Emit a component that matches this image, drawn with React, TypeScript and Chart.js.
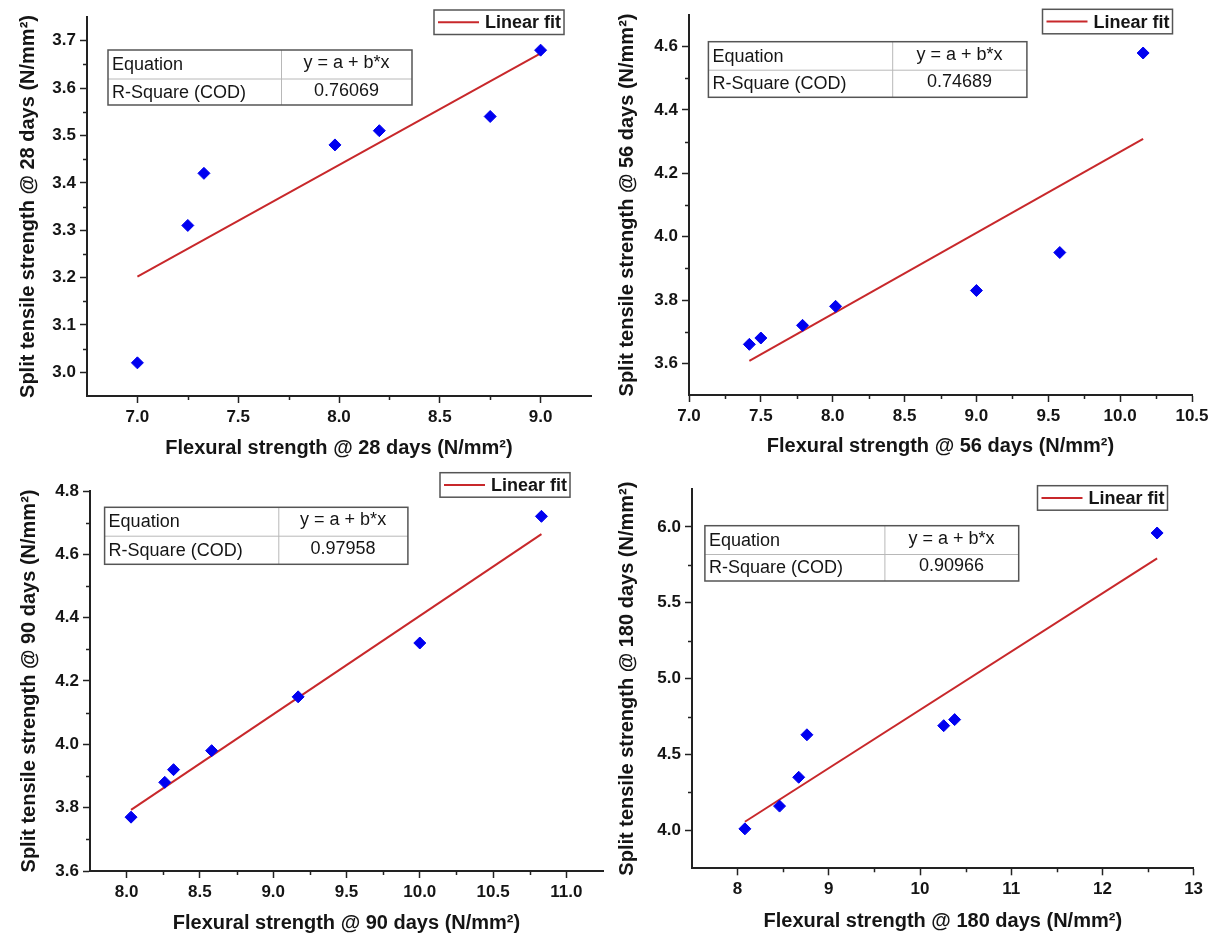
import React, { useEffect, useRef } from "react";
import { Chart, registerables } from "chart.js";
Chart.register(...registerables);

const FONT = "'Liberation Sans', Arial, sans-serif";

// ---- Data: 28 days ----
const flex28 = [7.0, 7.25, 7.33, 7.98, 8.2, 8.75, 9.0];
const split28 = [3.02, 3.31, 3.42, 3.48, 3.51, 3.54, 3.68];
const fit28X = [7.0, 9.0];
const fit28Y = [3.202, 3.673];
const r2_28 = "0.76069";
const xTicks28 = [7.0, 7.5, 8.0, 8.5, 9.0];
const xMinor28 = [7.25, 7.75, 8.25, 8.75];
const yTicks28 = [3.0, 3.1, 3.2, 3.3, 3.4, 3.5, 3.6, 3.7];
const yMinor28 = [3.05, 3.15, 3.25, 3.35, 3.45, 3.55, 3.65];

// ---- Data: 56 days ----
const flex56 = [7.42, 7.5, 7.79, 8.02, 9.0, 9.58, 10.16];
const split56 = [3.66, 3.68, 3.72, 3.78, 3.83, 3.95, 4.58];
const fit56X = [7.42, 10.16];
const fit56Y = [3.608, 4.309];
const r2_56 = "0.74689";
const xTicks56 = [7.0, 7.5, 8.0, 8.5, 9.0, 9.5, 10.0, 10.5];
const xMinor56 = [7.25, 7.75, 8.25, 8.75, 9.25, 9.75, 10.25];
const yTicks56 = [3.6, 3.8, 4.0, 4.2, 4.4, 4.6];
const yMinor56 = [3.7, 3.9, 4.1, 4.3, 4.5];

// ---- Data: 90 days ----
const flex90 = [8.03, 8.26, 8.32, 8.58, 9.17, 10.0, 10.83];
const split90 = [3.77, 3.88, 3.92, 3.98, 4.15, 4.32, 4.72];
const fit90X = [8.03, 10.83];
const fit90Y = [3.793, 4.664];
const r2_90 = "0.97958";
const xTicks90 = [8.0, 8.5, 9.0, 9.5, 10.0, 10.5, 11.0];
const xMinor90 = [8.25, 8.75, 9.25, 9.75, 10.25, 10.75];
const yTicks90 = [3.6, 3.8, 4.0, 4.2, 4.4, 4.6, 4.8];
const yMinor90 = [3.7, 3.9, 4.1, 4.3, 4.5, 4.7];

// ---- Data: 180 days ----
const flex180 = [8.08, 8.46, 8.67, 8.76, 10.26, 10.38, 12.6];
const split180 = [4.01, 4.16, 4.35, 4.63, 4.69, 4.73, 5.96];
const fit180X = [8.08, 12.6];
const fit180Y = [4.057, 5.793];
const r2_180 = "0.90966";
const xTicks180 = [8, 9, 10, 11, 12, 13];
const xMinor180 = [8.5, 9.5, 10.5, 11.5, 12.5];
const yTicks180 = [4.0, 4.5, 5.0, 5.5, 6.0];
const yMinor180 = [4.25, 4.75, 5.25, 5.75];

const equationText = "y = a + b*x";

type PanelDef = {
  days: string;
  xs: number[];
  ys: number[];
  fitX: number[];
  fitY: number[];
  r2: string;
  xTicks: number[];
  xMinor: number[];
  yTicks: number[];
  yMinor: number[];
  xDec: number;
  yDec: number;
  xMin: number;
  xMax: number;
  yMin: number;
  yMax: number;
  left: number;
  top: number;
  width: number;
  height: number;
  area: { l: number; r: number; t: number; b: number };
  yTitlePad: number;
  xTitlePad: number;
  legend: { x: number; y: number };
  table: { x: number; y: number; w: number; h: number; col: number; row: number };
};

const panels: PanelDef[] = [
  {
    days: "28", xs: flex28, ys: split28, fitX: fit28X, fitY: fit28Y, r2: r2_28,
    xTicks: xTicks28, xMinor: xMinor28, yTicks: yTicks28, yMinor: yMinor28, xDec: 1, yDec: 1,
    xMin: 6.75, xMax: 9.25, yMin: 2.95, yMax: 3.75,
    left: 0, top: 0, width: 612, height: 470,
    area: { l: 87, r: 591, t: 17, b: 396 },
    yTitlePad: 16, xTitlePad: 10,
    legend: { x: 434, y: 10 },
    table: { x: 108, y: 50, w: 304, h: 55, col: 173, row: 28.5 },
  },
  {
    days: "56", xs: flex56, ys: split56, fitX: fit56X, fitY: fit56Y, r2: r2_56,
    xTicks: xTicks56, xMinor: xMinor56, yTicks: yTicks56, yMinor: yMinor56, xDec: 1, yDec: 1,
    xMin: 7.0, xMax: 10.5, yMin: 3.5, yMax: 4.7,
    left: 612, top: 0, width: 612, height: 470,
    area: { l: 77, r: 580, t: 15, b: 395 },
    yTitlePad: 3.6, xTitlePad: 11.3,
    legend: { x: 430.5, y: 9.3 },
    table: { x: 96.4, y: 41.7, w: 318.5, h: 55.6, col: 183.8, row: 28 },
  },
  {
    days: "90", xs: flex90, ys: split90, fitX: fit90X, fitY: fit90Y, r2: r2_90,
    xTicks: xTicks90, xMinor: xMinor90, yTicks: yTicks90, yMinor: yMinor90, xDec: 1, yDec: 1,
    xMin: 7.75, xMax: 11.25, yMin: 3.6, yMax: 4.8,
    left: 0, top: 470, width: 612, height: 475,
    area: { l: 90, r: 603, t: 21, b: 401 },
    yTitlePad: 17.3, xTitlePad: 9.7,
    legend: { x: 440, y: 2.7 },
    table: { x: 104.6, y: 37.3, w: 303.3, h: 57, col: 173.7, row: 28.4 },
  },
  {
    days: "180", xs: flex180, ys: split180, fitX: fit180X, fitY: fit180Y, r2: r2_180,
    xTicks: xTicks180, xMinor: xMinor180, yTicks: yTicks180, yMinor: yMinor180, xDec: 0, yDec: 1,
    xMin: 7.5, xMax: 13, yMin: 3.75, yMax: 6.25,
    left: 612, top: 470, width: 612, height: 475,
    area: { l: 80, r: 581.6, t: 19, b: 398.3 },
    yTitlePad: 3.6, xTitlePad: 11.3,
    legend: { x: 425.5, y: 15.7 },
    table: { x: 92.9, y: 55.7, w: 313.8, h: 55.3, col: 179.5, row: 28.3 },
  },
];

const AXIS_COLOR = "#222222";
const TEXT_COLOR = "#151515";
const BLUE = "#0000f0";
const RED = "#c8282b";

function PanelChart({ p }: { p: PanelDef }) {
  const ref = useRef<HTMLCanvasElement | null>(null);

  useEffect(() => {
    if (!ref.current) return;

    const minorTicks = {
      id: "minorTicks",
      afterDraw(chart: any) {
        const ctx = chart.ctx;
        const { left, bottom } = chart.chartArea;
        const xs = chart.scales.x;
        const ys = chart.scales.y;
        ctx.save();
        ctx.strokeStyle = AXIS_COLOR;
        ctx.lineWidth = 1.5;
        ctx.beginPath();
        p.xMinor.forEach((v) => {
          const px = Math.round(xs.getPixelForValue(v)) + 0.5;
          ctx.moveTo(px, bottom);
          ctx.lineTo(px, bottom + 4);
        });
        p.yMinor.forEach((v) => {
          const py = Math.round(ys.getPixelForValue(v)) + 0.5;
          ctx.moveTo(left, py);
          ctx.lineTo(left - 4, py);
        });
        ctx.stroke();
        ctx.restore();
      },
    };

    const legendBox = {
      id: "legendBox",
      afterDraw(chart: any) {
        const ctx = chart.ctx;
        const label = chart.data.datasets[1].label as string;
        ctx.save();
        ctx.font = `bold 18px ${FONT}`;
        const tw = ctx.measureText(label).width;
        const x = p.legend.x;
        const y = p.legend.y;
        const h = 24.5;
        const w = 4 + 41 + 6 + tw + 3;
        ctx.fillStyle = "#ffffff";
        ctx.fillRect(x, y, w, h);
        ctx.strokeStyle = "#555555";
        ctx.lineWidth = 1.5;
        ctx.strokeRect(x, y, w, h);
        ctx.strokeStyle = RED;
        ctx.lineWidth = 2;
        ctx.beginPath();
        ctx.moveTo(x + 4, y + h / 2);
        ctx.lineTo(x + 45, y + h / 2);
        ctx.stroke();
        ctx.fillStyle = TEXT_COLOR;
        ctx.textBaseline = "middle";
        ctx.textAlign = "left";
        ctx.fillText(label, x + 51, y + h / 2 + 1);
        ctx.restore();
      },
    };

    const statsTable = {
      id: "statsTable",
      afterDraw(chart: any) {
        const ctx = chart.ctx;
        const t = p.table;
        ctx.save();
        ctx.fillStyle = "#ffffff";
        ctx.fillRect(t.x, t.y, t.w, t.h);
        ctx.strokeStyle = "#b8b8b8";
        ctx.lineWidth = 1;
        ctx.beginPath();
        ctx.moveTo(t.x, t.y + t.row + 0.5);
        ctx.lineTo(t.x + t.w, t.y + t.row + 0.5);
        ctx.moveTo(t.x + t.col + 0.5, t.y);
        ctx.lineTo(t.x + t.col + 0.5, t.y + t.h);
        ctx.stroke();
        ctx.strokeStyle = "#555555";
        ctx.lineWidth = 1.5;
        ctx.strokeRect(t.x, t.y, t.w, t.h);
        ctx.font = `18px ${FONT}`;
        ctx.fillStyle = TEXT_COLOR;
        ctx.textBaseline = "middle";
        const r1 = t.y + t.row / 2 + 1;
        const r2 = t.y + t.row + (t.h - t.row) / 2 + 1;
        ctx.textAlign = "left";
        ctx.fillText("Equation", t.x + 4, r1);
        ctx.fillText("R-Square (COD)", t.x + 4, r2);
        ctx.textAlign = "center";
        const cx = t.x + t.col + (t.w - t.col) / 2;
        ctx.fillText(equationText, cx, r1 - 2);
        ctx.fillText(p.r2, cx, r2 - 2);
        ctx.restore();
      },
    };

    const tickFont = { family: FONT, size: 17, weight: "bold" as const };
    const titleFont = { family: FONT, size: 20, weight: "bold" as const };

    const chart = new Chart(ref.current, {
      type: "scatter",
      data: {
        datasets: [
          {
            label: "Data",
            data: p.xs.map((x, i) => ({ x, y: p.ys[i] })),
            pointStyle: "rectRot",
            pointRadius: 6,
            pointHoverRadius: 6,
            backgroundColor: BLUE,
            borderColor: BLUE,
            borderWidth: 1,
            order: 0,
          } as any,
          {
            label: "Linear fit",
            data: p.fitX.map((x, i) => ({ x, y: p.fitY[i] })),
            showLine: true,
            borderColor: RED,
            backgroundColor: RED,
            borderWidth: 2,
            pointRadius: 0,
            pointHoverRadius: 0,
            fill: false,
            order: 1,
          } as any,
        ],
      },
      options: {
        animation: false,
        responsive: false,
        devicePixelRatio: 1,
        events: [],
        layout: {
          padding: { left: 0, top: p.area.t, right: p.width - p.area.r, bottom: 0 },
        },
        plugins: {
          legend: { display: false },
          tooltip: { enabled: false },
        },
        scales: {
          x: {
            type: "linear",
            position: "bottom",
            min: p.xMin,
            max: p.xMax,
            afterBuildTicks: (s: any) => {
              s.ticks = p.xTicks.map((v) => ({ value: v }));
            },
            afterFit: (s: any) => {
              s.height = p.height - p.area.b;
            },
            ticks: {
              callback: (v: any) => Number(v).toFixed(p.xDec),
              font: tickFont,
              color: TEXT_COLOR,
              padding: 4,
              maxRotation: 0,
              autoSkip: false,
            },
            grid: {
              display: true,
              drawOnChartArea: false,
              drawTicks: true,
              tickLength: 7,
              tickWidth: 1.5,
              tickColor: AXIS_COLOR,
            },
            border: { display: true, color: AXIS_COLOR, width: 2 },
            title: {
              display: true,
              text: `Flexural strength @ ${p.days} days (N/mm²)`,
              font: titleFont,
              color: TEXT_COLOR,
              padding: { top: 0, bottom: p.xTitlePad },
            },
          },
          y: {
            type: "linear",
            position: "left",
            min: p.yMin,
            max: p.yMax,
            afterBuildTicks: (s: any) => {
              s.ticks = p.yTicks.map((v) => ({ value: v }));
            },
            afterFit: (s: any) => {
              s.width = p.area.l;
            },
            ticks: {
              callback: (v: any) => Number(v).toFixed(p.yDec),
              font: tickFont,
              color: TEXT_COLOR,
              padding: 4,
              autoSkip: false,
            },
            grid: {
              display: true,
              drawOnChartArea: false,
              drawTicks: true,
              tickLength: 7,
              tickWidth: 1.5,
              tickColor: AXIS_COLOR,
            },
            border: { display: true, color: AXIS_COLOR, width: 2 },
            title: {
              display: true,
              text: `Split tensile strength @ ${p.days} days (N/mm²)`,
              font: titleFont,
              color: TEXT_COLOR,
              padding: { top: p.yTitlePad, bottom: 0 },
            },
          },
        },
      },
      plugins: [minorTicks, statsTable, legendBox],
    } as any);

    return () => chart.destroy();
  }, [p]);

  return (
    <canvas
      ref={ref}
      width={p.width}
      height={p.height}
      style={{ position: "absolute", left: p.left, top: p.top, width: p.width, height: p.height }}
    />
  );
}

export default function App() {
  return (
    <div
      style={{
        position: "absolute",
        left: 0,
        top: 0,
        width: 1224,
        height: 945,
        background: "#ffffff",
        overflow: "hidden",
      }}
    >
      {panels.map((p) => (
        <PanelChart key={p.days} p={p} />
      ))}
    </div>
  );
}
